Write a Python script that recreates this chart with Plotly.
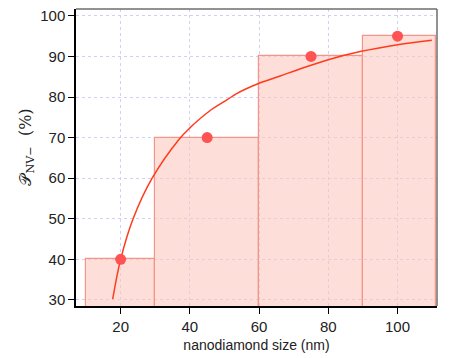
import plotly.graph_objects as go

# size bins (nm) and the fraction of NV- in each bin (%)
bin_edges = [10, 30, 60, 90, 111]
bin_values = [40, 70, 90, 95]

# measured points
meas_size = [20, 45, 75, 100]
meas_frac = [40, 70, 90, 95]

# model curve
curve_size = [17.7, 20, 23.6, 29.1, 36.9, 40, 45.6, 50.9, 53.4, 60, 66.1, 71.4, 80, 89.2, 100, 109.9]
curve_frac = [30.2, 40, 50, 60, 69.6, 72.4, 76.5, 79.4, 80.8, 83.4, 85.2, 86.8, 89.2, 91.2, 92.9, 94.0]

x_ticks = [20, 40, 60, 80, 100]
y_ticks = [30, 40, 50, 60, 70, 80, 90, 100]

centers = [(a + b) / 2 for a, b in zip(bin_edges[:-1], bin_edges[1:])]
widths = [b - a for a, b in zip(bin_edges[:-1], bin_edges[1:])]

fig = go.Figure()

fig.add_trace(go.Bar(
    x=centers,
    y=bin_values,
    width=widths,
    marker=dict(color='rgba(252,200,190,0.6)', line=dict(color='#f4958a', width=1.2)),
    hoverinfo='skip',
))

fig.add_trace(go.Scatter(
    x=curve_size,
    y=curve_frac,
    mode='lines',
    line=dict(color='#ff3b1c', width=1.5, shape='spline', smoothing=1.0),
))

fig.add_trace(go.Scatter(
    x=meas_size,
    y=meas_frac,
    mode='markers',
    marker=dict(color='#ff5252', size=11),
))

axis_font = dict(family='Liberation Sans, Arial, sans-serif', size=15, color='#222')
grid_col = '#cfcff8'

# page body has an 8px margin, so the figure is a bit smaller than the window
fig.update_layout(
    width=456,
    height=350,
    showlegend=False,
    plot_bgcolor='white',
    paper_bgcolor='white',
    bargap=0,
    margin=dict(l=68, r=27, t=1, b=52),
    font=axis_font,
    xaxis=dict(
        range=[7.1, 111.4],
        tickvals=x_ticks,
        ticks='outside',
        ticklen=6,
        tickcolor='black',
        showline=True,
        linecolor='black',
        linewidth=1.5,
        showgrid=True,
        gridcolor=grid_col,
        griddash='dot',
        gridwidth=1,
        zeroline=False,
        automargin=False,
        title=dict(text='nanodiamond size (nm)', font=dict(size=14), standoff=6),
    ),
    yaxis=dict(
        range=[28.5, 101.7],
        tickvals=y_ticks,
        ticks='outside',
        ticklen=6,
        tickcolor='black',
        showline=True,
        linecolor='black',
        linewidth=1.5,
        showgrid=True,
        gridcolor=grid_col,
        griddash='dot',
        gridwidth=1,
        zeroline=False,
        automargin=False,
        ticklabeloverflow='allow',
    ),
)

# y title as an annotation so it can sit a little above centre, like the original
fig.add_annotation(
    text='𝒫<sub>NV−</sub>  (%)',
    xref='paper', yref='paper', x=0, y=0.5,
    xanchor='center', yanchor='middle',
    xshift=-50, yshift=10,
    textangle=-90,
    showarrow=False,
    font=dict(family='DejaVu Serif, Liberation Serif, serif', size=16, color='#222'),
)

# gray frame on the top and right
fig.add_shape(type='line', xref='paper', yref='paper', x0=0, x1=1, y0=1, y1=1,
              line=dict(color='#6e6e6e', width=1.5))
fig.add_shape(type='line', xref='paper', yref='paper', x0=1, x1=1, y0=0, y1=1,
              line=dict(color='#6e6e6e', width=1.5))

fig.write_html("out.html")
